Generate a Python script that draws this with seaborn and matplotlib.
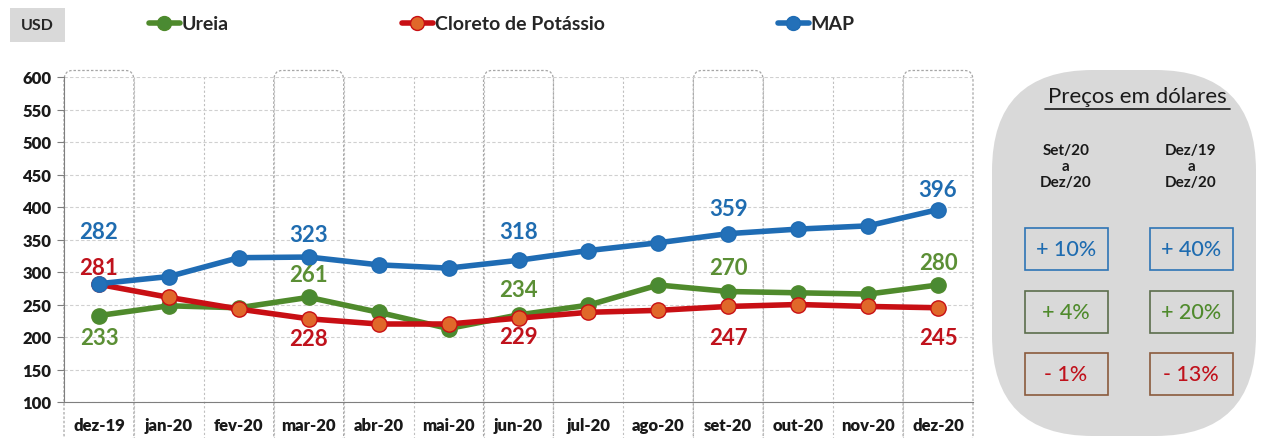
import numpy as np
import pandas as pd
import matplotlib.pyplot as plt
import seaborn as sns
from matplotlib.lines import Line2D
from matplotlib.patches import FancyBboxPatch, Rectangle

# ---------------------------
# DATA
# ---------------------------
months = ["dez-19", "jan-20", "fev-20", "mar-20", "abr-20", "mai-20", "jun-20",
          "jul-20", "ago-20", "set-20", "out-20", "nov-20", "dez-20"]
map_usd = [282, 293, 322, 323, 311, 306, 318, 333, 345, 359, 366, 371, 396]
ureia_usd = [233, 248, 245, 261, 238, 213, 234, 249, 280, 270, 268, 266, 280]
kcl_usd = [281, 261, 243, 228, 220, 220, 229, 238, 241, 247, 250, 247, 245]

highlight_months = ["dez-19", "mar-20", "jun-20", "set-20", "dez-20"]

col_headers = ["Set/20\na\nDez/20", "Dez/19\na\nDez/20"]
var_map = ["+ 10%", "+ 40%"]
var_ureia = ["+ 4%", "+ 20%"]
var_kcl = ["- 1%", "- 13%"]

names = ["Ureia", "Cloreto de Potássio", "MAP"]
line_colors = {"Ureia": "#4f8a2c", "Cloreto de Potássio": "#c80f14", "MAP": "#1f6cb4"}
marker_colors = {"Ureia": "#4a8a32", "Cloreto de Potássio": "#e0682a", "MAP": "#2370b8"}
label_colors = {"Ureia": "#5b8f35", "Cloreto de Potássio": "#c0121c", "MAP": "#1f6cb0"}

df = pd.DataFrame({
    "mes": months * 3,
    "x": list(range(len(months))) * 3,
    "produto": ["Ureia"] * 13 + ["Cloreto de Potássio"] * 13 + ["MAP"] * 13,
    "valor": ureia_usd + kcl_usd + map_usd,
})

# ---------------------------
# FIGURE
# ---------------------------
sns.set_style("white")
plt.rcParams["font.family"] = ["Lato", "DejaVu Sans"]
plt.rcParams["font.weight"] = "bold"

W, H = 1261, 439
fig = plt.figure(figsize=(W / 100, H / 100), dpi=100)
ax = fig.add_axes([64 / W, 1 - 403 / H, (973 - 64) / W, (403 - 78) / H])

# highlighted columns (dotted rounded outline)
for m in highlight_months:
    i = months.index(m)
    box = FancyBboxPatch((i - 0.5, -0.13), 1.0, 1.15,
                         boxstyle="round,pad=0,rounding_size=0.12",
                         transform=ax.get_xaxis_transform(), clip_on=False,
                         facecolor="none", edgecolor="#a6a6a6", lw=0.9,
                         linestyle=(0, (2, 1.5)), zorder=0,
                         mutation_aspect=0.25)
    ax.add_patch(box)

# vertical separators
for b in np.arange(0.5, len(months) - 1, 1):
    ax.axvline(b, ymin=-0.13, ymax=1, color="#bfbfbf", lw=0.8,
               linestyle=(0, (2, 2)), clip_on=False, zorder=0)

for p in names:
    sub = df[df["produto"] == p]
    sns.lineplot(data=sub, x="x", y="valor", ax=ax, color=line_colors[p],
                 lw=4, marker="o", markersize=11,
                 markerfacecolor=marker_colors[p], markeredgecolor=line_colors[p],
                 markeredgewidth=1, zorder=3 if p != "Ureia" else 2, legend=False)

# data labels (offset in pixels)
labels = [
    ("MAP", 0, 52), ("MAP", 3, 23), ("MAP", 6, 29), ("MAP", 9, 25), ("MAP", 12, 20),
    ("Cloreto de Potássio", 0, 17), ("Cloreto de Potássio", 3, -20),
    ("Cloreto de Potássio", 6, -18), ("Cloreto de Potássio", 9, -31),
    ("Cloreto de Potássio", 12, -30),
    ("Ureia", 0, -22), ("Ureia", 3, 23), ("Ureia", 6, 25), ("Ureia", 9, 24),
    ("Ureia", 12, 22),
]
series = {"MAP": map_usd, "Cloreto de Potássio": kcl_usd, "Ureia": ureia_usd}
for p, i, dy in labels:
    v = series[p][i]
    ax.annotate(str(v), (i, v), xytext=(0, dy), textcoords="offset pixels",
                ha="center", va="center", fontsize=16, fontweight="bold",
                color=label_colors[p], zorder=5)

ax.set_xlim(-0.5, len(months) - 0.5)
ax.set_ylim(100, 600)
ax.set_yticks(range(100, 601, 50))
ax.set_xticks(range(len(months)))
ax.set_xticklabels(months)
ax.set_xlabel("")
ax.set_ylabel("")
ax.yaxis.grid(True, color="#d0d0d0", lw=0.8, linestyle=(0, (3, 2)))
ax.xaxis.grid(False)
for s in ["top", "right"]:
    ax.spines[s].set_visible(False)
ax.spines["left"].set_color("#7f7f7f")
ax.spines["bottom"].set_color("#7f7f7f")
ax.tick_params(axis="y", length=5, color="#7f7f7f", labelsize=12, pad=4, left=True)
ax.tick_params(axis="x", length=0, labelsize=12, pad=11)
for t in ax.get_xticklabels() + ax.get_yticklabels():
    t.set_fontweight("heavy")
    t.set_color("#1a1a1a")

# legend
handles = [Line2D([], [], color=line_colors[p], lw=4, marker="o", markersize=10,
                  markerfacecolor=marker_colors[p], markeredgecolor=line_colors[p])
           for p in names]
fig.legend(handles, names, loc="center left", bbox_to_anchor=(131 / W, 1 - 25 / H),
           ncol=3, frameon=False, handlelength=1.6, handletextpad=0.1,
           columnspacing=8.9, prop={"size": 14, "weight": "bold"})

# USD box
fig.patches.append(Rectangle((10 / W, 1 - 43 / H), 55 / W, 34 / H,
                             transform=fig.transFigure, facecolor="#d9d9d9",
                             edgecolor="none"))
fig.text(37 / W, 1 - 26 / H, "USD", ha="center", va="center", fontsize=11.5,
         fontweight="bold", color="#262626")

# right panel
panel = FancyBboxPatch((992 / W, 1 - 437 / H), 264 / W, 366 / H,
                       boxstyle="round,pad=0,rounding_size=0.08",
                       transform=fig.transFigure, facecolor="#d9d9d9",
                       edgecolor="none", mutation_aspect=W / H)
fig.patches.append(panel)
fig.text(1137 / W, 1 - 97 / H, "Preços em dólares", ha="center", va="center",
         fontsize=16, fontweight="normal", color="#1a1a1a")
fig.add_artist(Line2D([1045 / W, 1230 / W], [1 - 110 / H, 1 - 110 / H],
                      color="#1a1a1a", lw=1.2, transform=fig.transFigure))

col_x = [1066, 1191]
for cx, hdr in zip(col_x, col_headers):
    fig.text(cx / W, 1 - 167 / H, hdr, ha="center", va="center", fontsize=11,
             fontweight="bold", color="#1a1a1a", linespacing=1.2)

rows = [(var_map, 250, "#2e75b6", "#1f6cb0"),
        (var_ureia, 313, "#5c6e4c", "#4f8a2c"),
        (var_kcl, 375, "#8a5a3c", "#c0121c")]
for vals, cy, edge, tcol in rows:
    for cx, v in zip(col_x, vals):
        fig.patches.append(Rectangle(((cx - 41) / W, 1 - (cy + 21) / H), 83 / W, 42 / H,
                                     transform=fig.transFigure, facecolor="#d9d9d9",
                                     edgecolor=edge, lw=1.2))
        fig.text(cx / W, 1 - cy / H, v, ha="center", va="center", fontsize=15.5,
                 fontweight="medium", color=tcol)

fig.savefig("out.png", dpi=100)
